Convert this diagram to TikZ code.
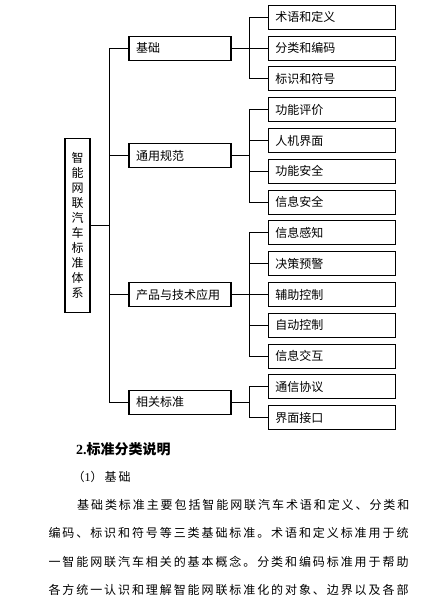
\documentclass[tikz,border=0pt]{standalone}
\usepackage{fontspec}
\setmainfont{Liberation Serif}
\newfontfamily\cjk{Noto Sans CJK SC}
\newfontfamily\cjkwide[LetterSpace=16]{Noto Sans CJK SC}
\usetikzlibrary{positioning, calc}

\begin{document}
\begin{tikzpicture}[
    x=1pt, y=-1pt,
    node distance=6.8pt and 37.3pt,
    box/.style={
      rectangle, draw, line width=1.1pt, outer sep=0pt,
      minimum height=24pt, inner xsep=7pt, inner ysep=0pt,
      align=left, font=\cjk\fontsize{12}{14}\selectfont
    },
    cat/.style={box, text width=88pt},
    item/.style={box, text width=113pt},
    root/.style={
      rectangle, draw, line width=1.1pt, outer sep=0pt,
      minimum width=25pt, minimum height=174pt, inner sep=0pt,
      align=center, font=\cjk\fontsize{12}{15}\selectfont
    },
    link/.style={line width=0.9pt},
    head/.style={anchor=west, inner sep=0pt, font=\cjk\bfseries\fontsize{14}{16}\selectfont},
    para/.style={anchor=west, inner sep=0pt, font=\cjkwide\fontsize{12}{14}\selectfont},
  ]
  \useasboundingbox (0,0) rectangle (427,599);

  %% ── Leaves ──
  \node[item] at (331.8,17.3)   (sy) {术语和定义};
  \node[item, below=of sy]      (fl) {分类和编码};
  \node[item, below=of fl]      (bs) {标识和符号};
  \node[item, below=of bs]      (gp) {功能评价};
  \node[item, below=of gp]      (rj) {人机界面};
  \node[item, below=of rj]      (gn) {功能安全};
  \node[item, below=of gn]      (xa) {信息安全};
  \node[item, below=of xa]      (gz) {信息感知};
  \node[item, below=of gz]      (jy) {决策预警};
  \node[item, below=of jy]      (fz) {辅助控制};
  \node[item, below=of fz]      (zd) {自动控制};
  \node[item, below=of zd]      (jh) {信息交互};
  \node[item, below=of jh]      (tx) {通信协议};
  \node[item, below=of tx]      (jm) {界面接口};

  %% ── Categories ──
  \coordinate (m2) at ($(rj.west)!0.5!(gn.west)$);
  \coordinate (m4) at ($(tx.west)!0.5!(jm.west)$);
  \node[cat, left=of fl] (jc) {基础};
  \node[cat, left=of m2] (ty) {通用规范};
  \node[cat, left=of fz] (cp) {产品与技术应用};
  \node[cat, left=of m4] (xg) {相关标准};

  %% ── Root ──
  \coordinate (m0) at ($(jc.west)!0.5!(xg.west)$);
  \node[root, left=39pt of m0] (bz) {智\\能\\网\\联\\汽\\车\\标\\准\\体\\系};

  %% ── Links ──
  \foreach \c in {jc,ty,cp,xg}
    \draw[link] (bz.east) -- ++(19.5,0) |- (\c.west);
  \foreach \i in {sy,fl,bs}
    \draw[link] (jc.east) -- ++(18.7,0) |- (\i.west);
  \foreach \i in {gp,rj,gn,xa}
    \draw[link] (ty.east) -- ++(18.7,0) |- (\i.west);
  \foreach \i in {gz,jy,fz,zd,jh}
    \draw[link] (cp.east) -- ++(18.7,0) |- (\i.west);
  \foreach \i in {tx,jm}
    \draw[link] (xg.east) -- ++(18.7,0) |- (\i.west);

  %% ── Text below ──
  \node[head] at (76,449)   (t0) {{\rmfamily 2.}标准分类说明};
  \node[para] at (72.5,477) (t1) {（{\rmfamily 1}）基础};
  \node[para] at (77,505)   (p1) {基础类标准主要包括智能网联汽车术语和定义、分类和};
  \node[para] at (48.3,533.3) (p2) {编码、标识和符号等三类基础标准。术语和定义标准用于统};
  \node[para] at (48.3,561.7) (p3) {一智能网联汽车相关的基本概念。分类和编码标准用于帮助};
  \node[para] at (48.3,590)   (p4) {各方统一认识和理解智能网联标准化的对象、边界以及各部};

\end{tikzpicture}
\end{document}
